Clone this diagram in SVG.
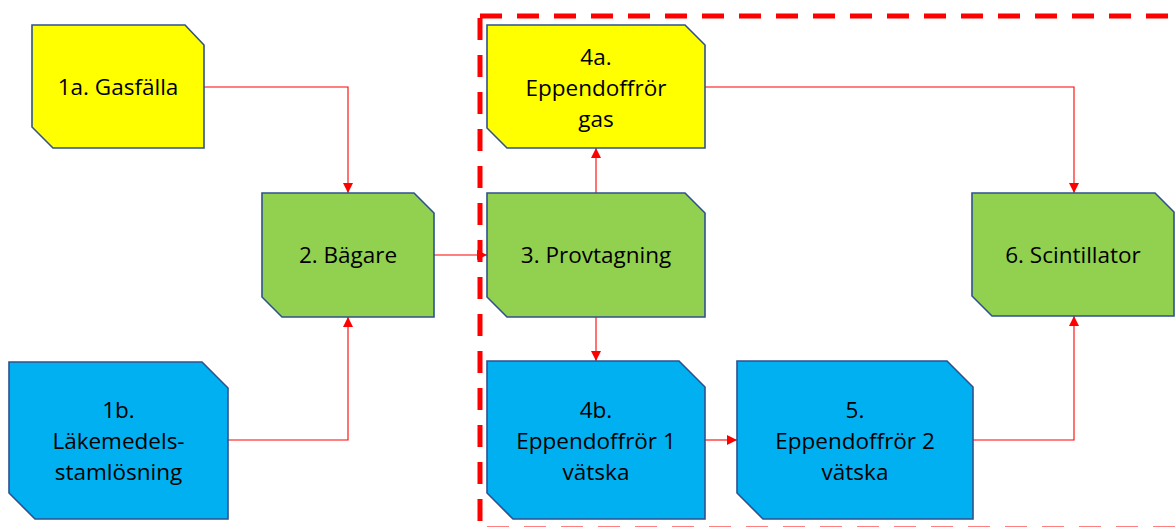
<svg xmlns="http://www.w3.org/2000/svg" width="1175" height="527" viewBox="0 0 1175 527">
<style>
.box{stroke:#2F528F;stroke-width:1.6;stroke-linejoin:miter}
.y{fill:#FFFF00}.g{fill:#92D050}.b{fill:#00B0F0}
.t{font-family:"Open Sans","Liberation Sans",sans-serif;font-size:22.5px;fill:#000;text-anchor:middle}
.c{fill:none;stroke:#FF0000;stroke-width:1.1;marker-end:url(#ah)}
</style>
<defs>
<marker id="ah" markerUnits="userSpaceOnUse" markerWidth="10" markerHeight="10" refX="10" refY="5" orient="auto" viewBox="0 0 10 10">
<path d="M0,0 L10,5 L0,10 z" fill="#FF0000"/>
</marker>
</defs>
<rect id="boundary" x="480" y="16" width="720" height="513" fill="none" stroke="#FF0000" stroke-width="5" stroke-dasharray="22 15"/>
<g id="connectors">
<path class="c" d="M204,87 H348 V193"/>
<path class="c" d="M228,440 H348 V317"/>
<path class="c" d="M434,255 H487"/>
<path class="c" d="M596,193 V148"/>
<path class="c" d="M596,317 V361"/>
<path class="c" d="M705,87 H1074 V193"/>
<path class="c" d="M705,440 H737"/>
<path class="c" d="M973,440 H1074 V316"/>
</g>
<g id="n1a">
<polygon class="box y" points="32,25 185,25 204,45 204,148 53,148 32,127"/>
<text class="t" x="118" y="95">1a. Gasfälla</text>
</g>
<g id="n1b">
<polygon class="box b" points="9,362 202,362 228,388 228,519 35,519 9,493"/>
<text class="t" x="118.5" y="418">1b.</text>
<text class="t" x="118.5" y="449">Läkemedels-</text>
<text class="t" x="118.5" y="480">stamlösning</text>
</g>
<g id="n2">
<polygon class="box g" points="262,193 414,193 434,213 434,317 282,317 262,297"/>
<text class="t" x="348" y="263">2. Bägare</text>
</g>
<g id="n3">
<polygon class="box g" points="487,193 685,193 705,213 705,317 507,317 487,297"/>
<text class="t" x="596" y="263">3. Provtagning</text>
</g>
<g id="n4a">
<polygon class="box y" points="487,25 685,25 705,45 705,148 507,148 487,128"/>
<text class="t" x="596" y="65">4a.</text>
<text class="t" x="596" y="96">Eppendoffrör</text>
<text class="t" x="596" y="127">gas</text>
</g>
<g id="n4b">
<polygon class="box b" points="487,361 679,361 705,387 705,519 513,519 487,493"/>
<text class="t" x="596" y="418">4b.</text>
<text class="t" x="596" y="449">Eppendoffrör 1</text>
<text class="t" x="596" y="480">vätska</text>
</g>
<g id="n5">
<polygon class="box b" points="737,361 947,361 973,387 973,519 763,519 737,493"/>
<text class="t" x="855" y="418">5.</text>
<text class="t" x="855" y="449">Eppendoffrör 2</text>
<text class="t" x="855" y="480">vätska</text>
</g>
<g id="n6">
<polygon class="box g" points="972,193 1155,193 1174,212 1174,316 992,316 972,296"/>
<text class="t" x="1073" y="263">6. Scintillator</text>
</g>
</svg>
